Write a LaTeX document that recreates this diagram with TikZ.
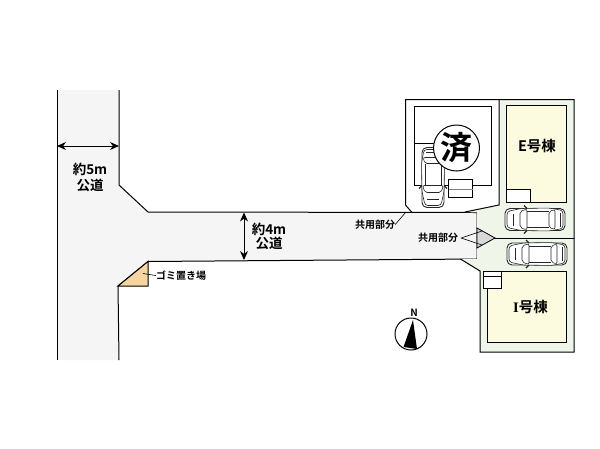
\documentclass[tikz,border=0pt]{standalone}
\usepackage{fontspec}
\setmainfont{Noto Sans CJK JP}[BoldFont={Noto Sans CJK JP Bold}]
\newfontfamily\serifI{Liberation Serif}[BoldFont={Liberation Serif Bold}]
\usetikzlibrary{arrows.meta}
\definecolor{roadgray}{HTML}{F5F5F5}
\definecolor{sitegreen}{HTML}{EFF6E9}
\definecolor{bldyellow}{HTML}{FCFADF}
\definecolor{trash}{HTML}{F6D5A0}
\definecolor{stripe}{HTML}{D8D8D8}
\tikzset{
  x=1pt,y=-1pt,
  wall/.style={draw=black,line width=1pt,line join=miter},
  thin line/.style={draw=black,line width=.6pt},
  dim/.style={draw=black,line width=1pt,{Stealth[length=9pt,width=8pt]}-{Stealth[length=9pt,width=8pt]}},
  roadlabel/.style={font=\fontsize{13.5}{14}\selectfont\bfseries,align=center,inner sep=0pt},
  smalllabel/.style={font=\fontsize{10}{10}\selectfont\bfseries,inner sep=0pt},
  bldlabel/.style={font=\fontsize{14.5}{15}\selectfont\bfseries,inner sep=0pt},
  carpart/.style={draw=black!85,line width=.6pt,fill=white},
  pics/carshape/.style={code={
    \path[carpart,line width=.9pt,rounded corners=5pt] (-30,-11) -- (30,-11) -- (30,11) -- (-30,11) -- cycle;
    \path[carpart,rounded corners=3pt] (-28,-8) -- (-14,-11) -- (14,-11.5) -- (28,-9) -- (28,9) -- (14,11.5) -- (-14,11) -- (-28,8) -- cycle;
    \path[carpart,rounded corners=2pt] (-15,-8) -- (-8,-10.5) -- (-8,10.5) -- (-15,8) -- cycle;
    \path[carpart,rounded corners=2pt] (14,-8) -- (20,-10) -- (20,10) -- (14,8) -- cycle;
    \draw[black!85,line width=.6pt] (-8,-8) -- (14,-8) (-8,8) -- (14,8) (-22,-6) -- (-22,6) (25,-7) -- (25,7);
    \draw[black!85,line width=1.1pt] (-11,-14) -- (-8,-11) (-11,14) -- (-8,11);
  }}
}
\begin{document}
\begin{tikzpicture}
\useasboundingbox (0,0) rectangle (600,448);
\fill[white] (0,0) rectangle (600,448);
% road
\fill[roadgray] (57,90) -- (119,90) -- (119,185) -- (148,212) -- (477,213) -- (477,259) -- (148,261.5) -- (118,286) -- (119,360) -- (57,360) -- cycle;
\draw[wall] (57,90) -- (57,360);
\draw[wall] (119,90) -- (119,185) -- (148,212) -- (477,212.5) -- (477,259) -- (148,261.5) -- (118,286) -- (119,360);
% trash
\path[fill=trash,wall] (148,261.5) -- (118,286) -- (148,286) -- cycle;
% site green
\fill[sitegreen] (499,99.5) -- (574,99.5) -- (574,352) -- (480,352) -- (480,271) -- (461,259) -- (477,259) -- (477,212.5) -- (465,212) -- (499,205) -- cycle;
% site outlines
\draw[wall] (412,212.5) -- (405.5,205) -- (405.5,99.5) -- (574,99.5) -- (574,352) -- (480,352) -- (480,271) -- (460.5,259);
\draw[wall] (499,99.5) -- (499,205) -- (465,212);
\draw[wall] (477,238) -- (574,238);
% shared triangle
\path[fill=stripe,wall,line width=.8pt] (477,228) -- (495,238) -- (477,248) -- cycle;
% left house
\path[wall,fill=white] (414,106.5) -- (491.5,106.5) -- (491.5,185) -- (414,185) -- cycle;
\draw[wall] (414,143) -- (445,143);
\path[wall,fill=white] (448.5,179.5) rectangle (472.5,197);
\draw[thin line,draw=black!50] (448.5,189) -- (472.5,189);
\pic[rotate=90] at (433,177.5) {carshape};
\node[circle,draw=black,line width=1pt,fill=white,minimum size=46pt,inner sep=0pt,font=\fontsize{32}{32}\selectfont\bfseries] (sumi) at (456.5,148) {済};
% E building
\path[wall,fill=bldyellow] (506,105.5) rectangle (566,202.5);
\path[wall,fill=white] (506,189) rectangle (530,202.5);
\node[bldlabel] (elabel) at (537,146) {E号棟};
% cars
\pic at (535,219.5) {carshape};
\pic at (537,254) {carshape};
% I building
\path[wall,fill=bldyellow] (487.5,271) -- (566,271) -- (566,342.5) -- (487.5,342.5) -- cycle;
\path[wall,fill=white] (483,271) rectangle (501,288);
\draw[thin line] (483,276) -- (501,276);
\node[bldlabel] (ilabel) at (530.5,307) {{\serifI\bfseries I}号棟};
% road labels
\node[roadlabel] (r5) at (90,177) {約5m\\[2pt]公道};
\node[roadlabel] (r4) at (269,236.5) {約4m\\[0pt]公道};
\coordinate (w1) at (57,146); \coordinate (w2) at (119,146);
\coordinate (h1) at (244,212.5); \coordinate (h2) at (244,260);
\draw[dim] (w1) -- (w2);
\draw[dim] (h1) -- (h2);
% small labels
\node[smalllabel] (trashlabel) at (181,275.5) {ゴミ置き場};
\coordinate (trashpt) at (143,273.5);
\draw[thin line] (trashlabel.west) -- (trashpt);
\node[smalllabel] (share1) at (375,224.5) {共用部分};
\coordinate (share1pt) at (406,212);
\draw[thin line] (share1.east) -- (share1pt);
\node[smalllabel] (share2) at (438,238) {共用部分};
\coordinate (s2a) at (482,231); \coordinate (s2b) at (482,245);
\draw[thin line] (s2a) -- ([xshift=3pt]share2.east) -- (s2b);
% compass
\node[circle,draw=black,line width=1pt,minimum size=32pt,inner sep=0pt] (comp) at (411,334) {};
\fill[black] (413,320) -- (403.5,347) -- (417,349) -- cycle;
\node[font=\fontsize{10}{10}\selectfont\bfseries,inner sep=0pt] (north) at (414,313) {N};
\end{tikzpicture}
\end{document}
